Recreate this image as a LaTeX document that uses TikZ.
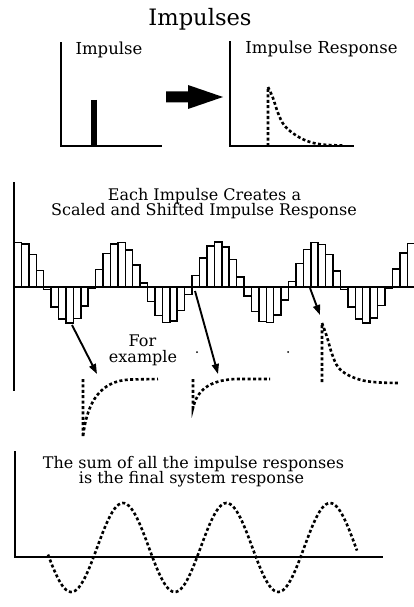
\documentclass[tikz,border=0pt]{standalone}
\usepackage{fontspec}
\setmainfont{DejaVu Serif}
\usetikzlibrary{arrows.meta}
\begin{document}
\begin{tikzpicture}[x=1pt,y=-1pt,
  axisline/.style={line width=1.4pt, line cap=rect},
  barline/.style={line width=1.5pt, draw=black, fill=white},
  dotline/.style={line width=2.6pt, dash pattern=on 3pt off 2.4pt},
  ptr/.style={line width=1.9pt, -{Triangle[length=10pt,width=7pt]}},
  titletext/.style={inner sep=0pt, anchor=base, font=\fontsize{22.6}{24}\selectfont},
  labeltext/.style={inner sep=0pt, anchor=base, font=\fontsize{16.5}{17}\selectfont},
  bodytext/.style={inner sep=0pt, anchor=base, font=\fontsize{16}{16}\selectfont}]
\useasboundingbox (0,0) rectangle (414,607);
\fill[white] (0,0) rectangle (414,607);

% ---------- top section ----------
\node[titletext] (title) at (200,26) {Impulses};

% left plot
\coordinate (lt) at (61,43);
\coordinate (lo) at (61,146);
\coordinate (lr) at (161,146);
\draw[axisline] (lt) -- (lo) -- (lr);
\node[labeltext] (limp) at (109,55) {Impulse};
\coordinate (imptop) at (94,100);
\coordinate (impbot) at (94,146);
\draw[line width=5.5pt] (imptop) -- (impbot);

% block arrow
\fill[black] (166,91.5) -- (188,91.5) -- (188,85) -- (223,97) -- (188,109)
  -- (188,102.5) -- (166,102.5) -- cycle;

% right plot
\coordinate (rt) at (230,42);
\coordinate (ro) at (230,146);
\coordinate (rr) at (353,146);
\draw[axisline] (rt) -- (ro) -- (rr);
\node[labeltext] (rresp) at (321.5,54) {Impulse Response};
\draw[dotline] (268,146) -- (268,87)
  plot[smooth, tension=0.6] coordinates {(268,87) (273,98) (278,113) (284,125)
  (294,134) (307,141) (322,144.5) (343,145.5)};

% ---------- middle section ----------
\node[bodytext] (mid1) at (204.5,200) {Each Impulse Creates a};
\node[bodytext] (mid2) at (204,215) {Scaled and Shifted Impulse Response};

\begin{scope}
\clip (0,0) rectangle (414,607);
\foreach \n in {0,...,53} {
  \pgfmathsetmacro\xa{14+7.42*\n}
  \pgfmathsetmacro\vv{-(4.5+40.5*cos(27.007*(\n-0.3)))}
  \draw[barline] (\xa,287) rectangle ++(7.42,\vv);
}
\end{scope}
\coordinate (mt) at (14,183);
\coordinate (mb) at (14,390);
\draw[axisline] (mt) -- (mb);

% pointer arrows
\coordinate (a1s) at (72,325);
\coordinate (a1e) at (97,374);
\coordinate (a2s) at (195,291);
\coordinate (a2e) at (218,374);
\coordinate (a3s) at (310,288);
\coordinate (a3e) at (320,315);
\draw[ptr] (a1s) -- (a1e);
\draw[ptr] (a2s) -- (a2e);
\draw[ptr] (a3s) -- (a3e);

\node[bodytext] (for) at (142.5,346) {For};
\node[bodytext] (example) at (143,362) {example};

\fill (197,352) circle (1pt);
\fill (288,352) circle (1pt);

% scaled responses
\draw[dotline] (83,379) -- (83,437) .. controls (87,402) and (100,381) .. (130,379.5) -- (158,379);
\draw[dotline] (193,379) -- (193,408) .. controls (197,391) and (208,380.5) .. (235,379) -- (270,379);
\draw[dotline] (322,382) -- (322,323)
  plot[smooth, tension=0.6] coordinates {(322,323) (327,337) (332,354) (338,367)
  (348,375) (363,380.5) (380,382.5) (398,383)};

% ---------- bottom section ----------
\node[bodytext] (sum1) at (193.5,468) {The sum of all the impulse responses};
\node[bodytext] (sum2) at (191.5,483) {is the final system response};
\coordinate (bt) at (15,452);
\coordinate (bo) at (15,557);
\coordinate (br) at (382,557);
\draw[axisline] (bt) -- (bo) -- (br);
\draw[dotline] plot[domain=48:357, samples=150, smooth]
  (\x, {547.5 - 44.5*cos(3.4783*(\x-123))});
\end{tikzpicture}
\end{document}
